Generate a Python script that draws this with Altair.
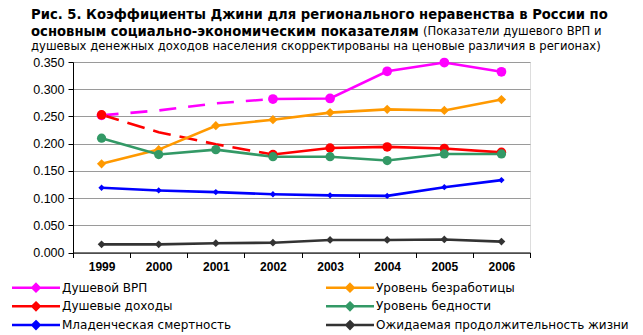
import altair as alt
import pandas as pd

years = [1999, 2000, 2001, 2002, 2003, 2004, 2005, 2006]
series_names = [
    "Душевой ВРП",
    "Душевые доходы",
    "Младенческая смертность",
    "Уровень безработицы",
    "Уровень бедности",
    "Ожидаемая продолжительность жизни",
]
vrp = [0.252, 0.261, 0.274, 0.282, 0.283, 0.333, 0.349, 0.332]
income = [0.253, 0.221, 0.199, 0.180, 0.192, 0.194, 0.191, 0.184]
infant = [0.119, 0.114, 0.111, 0.107, 0.105, 0.104, 0.120, 0.133]
unemployment = [0.163, 0.189, 0.233, 0.244, 0.257, 0.263, 0.261, 0.281]
poverty = [0.210, 0.180, 0.189, 0.176, 0.176, 0.169, 0.181, 0.181]
life = [0.015, 0.015, 0.017, 0.018, 0.023, 0.023, 0.024, 0.020]
values_by_series = [vrp, income, infant, unemployment, poverty, life]

colors = ["#FF00FF", "#FF0000", "#0000FF", "#FF9900", "#339966", "#333333"]
shapes = ["circle", "circle", "diamond", "diamond", "circle", "diamond"]
sizes = [95, 90, 40, 85, 85, 60]
dashed_series = ["Душевой ВРП", "Душевые доходы"]
dash_end_year = 2002
hidden_marker_years = [2000, 2001]

title_line1 = "Рис. 5. Коэффициенты Джини для регионального неравенства в России по"
title_line2_bold = "основным социально-экономическим показателям"
title_line2_note = "(Показатели душевого ВРП и"
title_line3_note = "душевых денежных доходов населения скорректированы на ценовые различия в регионах)"

rows = []
for name, vals, shp, sz in zip(series_names, values_by_series, shapes, sizes):
    for yr, v in zip(years, vals):
        is_dash = name in dashed_series
        rows.append({
            "year": yr,
            "series": name,
            "value": v,
            "shp": shp,
            "sz": sz,
            "dashpart": is_dash and yr <= dash_end_year,
            "solidpart": (not is_dash) or yr >= dash_end_year,
            "marker": not (is_dash and yr in hidden_marker_years),
        })
df = pd.DataFrame(rows)

FONT = "Liberation Sans"
TFONT = "DejaVu Sans"

x_enc = alt.X(
    "year:O",
    scale=alt.Scale(type="band", paddingInner=0, paddingOuter=0),
    axis=alt.Axis(
        title=None, labelAngle=0, tickBand="extent", labelFontWeight="bold",
        labelFontSize=12, labelFont=FONT, labelColor="black", domainColor="black",
        tickColor="black", tickSize=5, labelPadding=4, grid=False,
    ),
)
y_enc = alt.Y(
    "value:Q",
    scale=alt.Scale(domain=[0, 0.35], nice=False, zero=True),
    axis=alt.Axis(
        title=None, values=[0, 0.05, 0.1, 0.15, 0.2, 0.25, 0.3, 0.35], format=".3f",
        labelFont=FONT, labelFontSize=12.5, labelColor="black", domainColor="black",
        tickColor="black", tickSize=5, labelPadding=4, grid=True, gridColor="#9a9a9a",
        gridWidth=1,
    ),
)
color_scale = alt.Scale(domain=series_names, range=colors)

legend_path = "M-6,0L6,0M0,-0.9L0.9,0L0,0.9L-0.9,0Z"
legend = alt.Legend(
    title=None, orient="none", legendX=-43, legendY=219.5, columns=2,
    symbolType=legend_path, symbolSize=64, symbolStrokeWidth=2.5,
    labelOffset=20, labelFont=TFONT, labelFontSize=12, labelColor="black",
    columnPadding=89, rowPadding=0.8, padding=0, labelLimit=0,
)
color_enc = alt.Color("series:N", scale=color_scale, legend=legend)

base = alt.Chart(df)

dash_layers = []
dash_patterns = [[17, 12], [18, 9]]
for name, pat in zip(dashed_series, dash_patterns):
    dash_layers.append(
        base.transform_filter(alt.datum.dashpart)
        .transform_filter(alt.datum.series == name)
        .mark_line(strokeWidth=2.6, strokeDash=pat)
        .encode(x=x_enc, y=y_enc, color=color_enc)
    )

solid = (
    base.transform_filter(alt.datum.solidpart)
    .mark_line(strokeWidth=2.6)
    .encode(x=x_enc, y=y_enc, color=color_enc, detail="series:N")
)

points = (
    base.transform_filter(alt.datum.marker)
    .mark_point(filled=True, opacity=1)
    .encode(
        x=x_enc, y=y_enc, color=color_enc,
        shape=alt.Shape("shp:N", scale=None),
        size=alt.Size("sz:Q", scale=None),
    )
)


def text_layer(txt, x, y, size, weight):
    return alt.Chart(pd.DataFrame({"t": [txt]})).mark_text(
        align="left", baseline="middle", font=TFONT, fontSize=size,
        fontWeight=weight, color="black"
    ).encode(text="t:N", x=alt.value(x), y=alt.value(y))


texts = [
    text_layer(title_line1, -42, -47, 13.2, "bold"),
    text_layer(title_line2_bold, -42, -30, 13.2, "bold"),
    text_layer(title_line2_note, 350, -30, 11.6, "normal"),
    text_layer(title_line3_note, -42, -15, 11.6, "normal"),
]

chart = alt.layer(*dash_layers, solid, points, *texts).properties(
    width=457, height=190.5,
    padding={"left": 73, "top": 62, "right": 113, "bottom": 82.5},
    autosize="none",
).configure_view(stroke=None).configure(background="white")

chart.save("out.html", embed_options={"renderer": "svg", "actions": False})
